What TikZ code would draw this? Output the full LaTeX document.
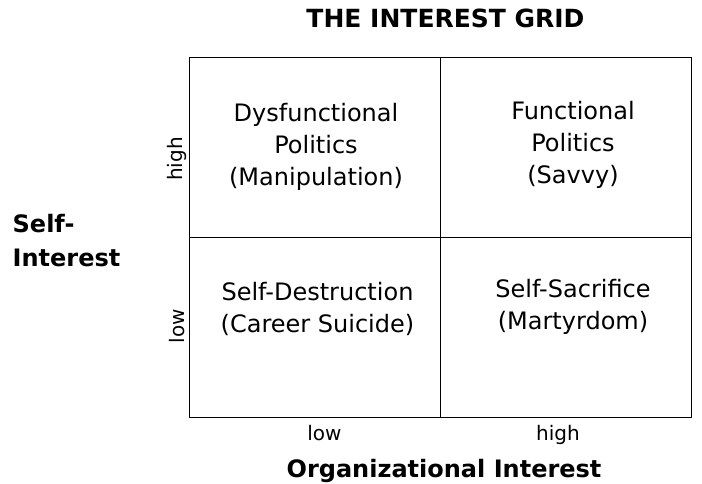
\documentclass[tikz,border=0pt]{standalone}
\usepackage{fontspec}
\setmainfont{DejaVu Sans}
\usetikzlibrary{positioning}
\tikzset{
    every node/.style={font=\fontsize{24}{32}\selectfont, align=center, inner sep=0pt},
    axis title/.style={font=\bfseries\fontsize{24}{34}\selectfont},
    tick label/.style={font=\fontsize{20}{24}\selectfont}
}

\begin{document}
\begin{tikzpicture}[
            x = 1pt, y = -1pt, % pixel units, y downwards
            grid line/.style = {line width=1pt, black}
        ]

        \useasboundingbox (0,0) rectangle (702,483);

        % the four cells
        \coordinate (nw) at (189.5,57);
        \coordinate (se) at (691.5,417);
        \draw[grid line] (nw) rectangle (se);
        \draw[grid line] (440.5,57) -- (440.5,417);
        \draw[grid line] (189.5,237) -- (691.5,237);

        \node[axis title, font=\bfseries\fontsize{25}{30}\selectfont, anchor=base] (title) at (445.5,27) {THE INTEREST GRID};

        \node (hl) at (316,147) {Dysfunctional\\Politics\\(Manipulation)};
        \node (hh) at (573,144.5) {Functional\\Politics\\(Savvy)};
        \node (ll) at (317.5,309) {Self-Destruction\\(Career Suicide)};
        \node (lh) at (573,307) {Self-Sacrifice\\(Martyrdom)};

        % axis ticks
        \node[tick label, rotate=90] (yhigh) at (177,159) {high};
        \node[tick label, rotate=90, anchor=base] (ylow) at (184,326) {low};
        \node[tick label, anchor=base] (xlow) at (324.5,440) {low};
        \node[tick label, anchor=base] (xhigh) at (558,440) {high};

        \node[axis title, anchor=base] (xtitle) at (444,477) {Organizational Interest};
        \node[axis title, align=left, anchor=north west] (ytitle) at (12.5,214) {Self-\\Interest};

  \end{tikzpicture}
\end{document}
